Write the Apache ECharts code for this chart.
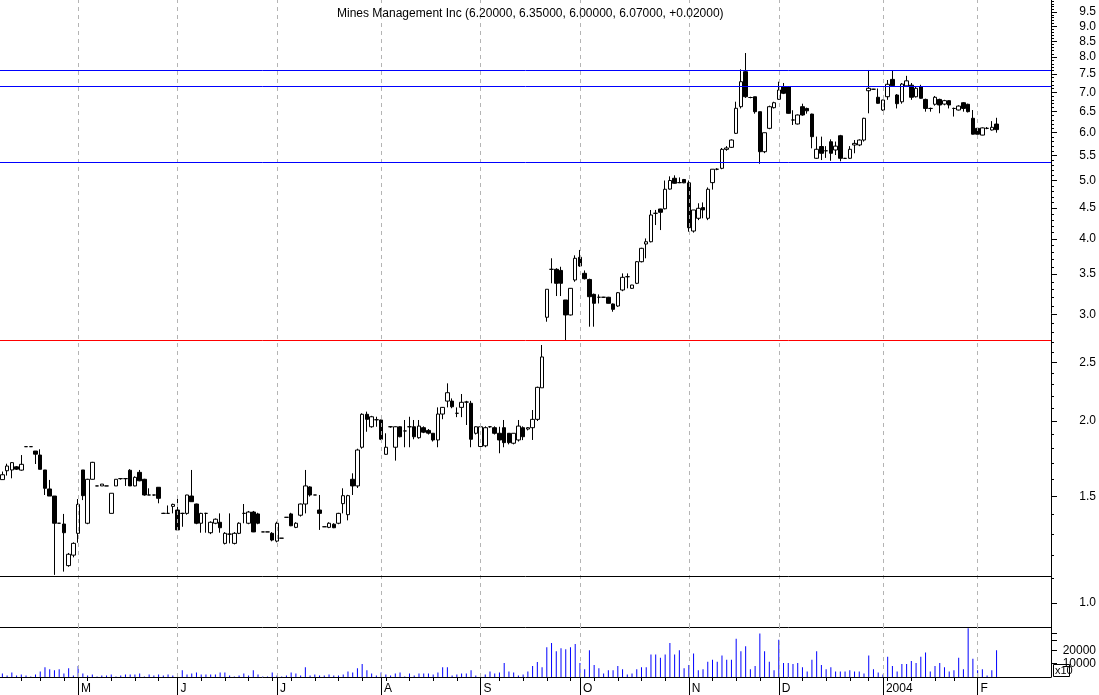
<!DOCTYPE html>
<html><head><meta charset="utf-8">
<script src="https://cdn.jsdelivr.net/npm/echarts@6/dist/echarts.min.js"></script>
<style>html,body{margin:0;padding:0;background:#fff}#c{width:1099px;height:695px}</style>
</head><body><div id="c"></div><script>
// ---------- DATA ----------
const title = 'Mines Management Inc (6.20000, 6.35000, 6.00000, 6.07000, +0.02000)';
const firstDay = '2003-04-08', lastDay = '2004-02-06';
const holidays = ['2003-04-18','2003-05-26','2003-07-04','2003-09-01','2003-11-27','2003-12-25','2004-01-01','2004-01-19'];
const padCount = 11;
const open = [1.60,1.655,1.66,1.68,1.659,1.814,1.814,1.784,1.757,1.66,
1.544,1.503,1.355,1.351,1.153,1.20,1.304,1.66,1.355,1.602,
1.562,1.562,1.562,1.407,1.562,1.606,1.606,1.658,1.562,1.645,
1.602,1.509,1.509,1.554,1.407,1.407,1.445,1.425,1.407,1.407,
1.503,1.458,1.355,1.407,1.307,1.355,1.36,1.255,1.30,1.255,
1.304,1.407,1.355,1.414,1.404,1.311,1.311,1.304,1.266,1.28,
1.386,1.404,1.334,1.397,1.458,1.556,1.509,1.425,1.337,1.334,
1.35,1.355,1.46,1.40,1.602,1.562,1.81,2.052,1.957,2.01,
2.008,1.762,1.957,1.81,1.957,1.926,1.957,1.957,1.877,1.95,
1.93,1.909,1.861,2.054,2.158,2.158,2.06,2.107,2.15,2.14,
1.909,1.815,1.82,1.957,1.95,1.909,1.95,1.909,1.838,1.861,
1.95,1.94,1.95,2.013,2.27,2.97,3.565,3.565,3.55,3.172,
2.996,3.423,3.732,3.511,3.43,3.241,3.205,3.205,3.205,3.124,
3.10,3.295,3.466,3.316,3.38,3.67,3.926,3.96,4.413,4.486,
4.49,4.84,5.043,4.96,5.02,4.956,4.125,4.33,4.51,4.33,
4.96,5.22,5.238,5.63,5.674,5.985,6.624,7.569,6.86,6.88,
6.499,5.58,6.10,6.599,6.813,7.149,7.149,6.297,6.202,6.624,
6.58,6.44,5.442,5.692,5.60,5.796,5.617,5.93,5.44,5.442,
5.725,5.725,5.834,7.04,7.08,6.866,6.541,6.881,7.35,6.926,
6.749,7.17,7.19,6.88,7.15,6.81,6.58,6.686,6.81,6.69,
6.778,6.58,6.541,6.725,6.685,6.338,6.10,5.945,6.10,6.061,
6.20];
const close = [1.63,1.685,1.707,1.665,1.696,1.814,1.814,1.763,1.664,1.548,
1.503,1.355,1.355,1.307,1.204,1.255,1.456,1.505,1.602,1.709,
1.562,1.573,1.562,1.519,1.602,1.606,1.606,1.562,1.614,1.593,
1.509,1.509,1.509,1.49,1.407,1.407,1.456,1.321,1.407,1.509,
1.471,1.355,1.407,1.407,1.36,1.376,1.332,1.304,1.30,1.304,
1.355,1.407,1.414,1.311,1.355,1.311,1.311,1.271,1.355,1.28,
1.386,1.342,1.355,1.458,1.562,1.509,1.509,1.407,1.337,1.355,
1.332,1.407,1.505,1.505,1.562,1.791,2.052,2.013,2.033,2.01,
1.866,1.81,1.957,1.957,1.884,1.926,1.957,1.884,1.962,1.917,
1.91,1.861,2.054,2.107,2.228,2.112,2.06,2.148,2.15,1.866,
1.957,1.957,1.95,1.957,1.909,1.861,1.842,1.842,1.909,1.962,
1.884,1.95,2.013,2.274,2.553,3.304,3.565,3.38,3.38,2.996,
3.316,3.718,3.61,3.44,3.212,3.132,3.205,3.205,3.132,3.061,
3.261,3.458,3.466,3.358,3.67,3.862,3.96,4.385,4.413,4.43,
4.836,5.0,4.948,4.96,4.956,4.177,4.469,4.498,4.47,4.836,
5.22,5.22,5.631,5.66,5.834,6.584,7.286,6.881,6.86,6.499,
5.58,5.999,6.624,6.725,7.059,6.971,6.459,6.297,6.418,6.418,
6.52,5.909,5.632,5.547,5.60,5.547,5.70,5.442,5.44,5.632,
5.76,5.834,6.338,7.105,7.08,6.71,6.795,7.214,7.176,6.70,
7.22,7.31,6.866,7.105,6.84,6.58,6.58,6.866,6.667,6.778,
6.667,6.58,6.64,6.58,6.50,5.965,5.965,6.11,6.10,6.124,
6.07];
const low = [1.60,1.625,1.608,1.66,1.655,1.814,1.814,1.698,1.664,1.509,
1.503,1.113,1.355,1.127,1.148,1.19,1.258,1.48,1.35,1.60,
1.562,1.562,1.562,1.407,1.562,1.60,1.562,1.562,1.56,1.59,
1.505,1.509,1.505,1.462,1.405,1.405,1.407,1.32,1.337,1.40,
1.47,1.35,1.307,1.307,1.30,1.35,1.307,1.25,1.255,1.25,
1.30,1.355,1.35,1.31,1.35,1.311,1.311,1.265,1.26,1.28,
1.386,1.34,1.33,1.39,1.407,1.50,1.509,1.321,1.337,1.33,
1.33,1.35,1.407,1.37,1.509,1.55,1.80,1.92,1.95,1.957,
1.86,1.76,1.95,1.72,1.88,1.81,1.81,1.866,1.87,1.91,
1.90,1.85,1.81,2.014,2.107,2.10,2.03,2.03,1.97,1.81,
1.90,1.81,1.81,1.95,1.90,1.769,1.81,1.83,1.83,1.85,
1.86,1.93,1.861,2.0,2.27,2.92,3.38,3.22,3.22,2.723,
2.99,3.40,3.60,3.43,2.865,2.865,3.13,3.20,3.13,3.033,
3.09,3.28,3.316,3.31,3.37,3.66,3.718,3.95,4.22,4.14,
4.48,4.83,4.94,4.95,4.95,4.114,4.10,4.30,4.33,4.30,
4.83,5.20,5.22,5.60,5.66,5.97,6.58,6.85,6.84,6.45,
5.33,5.55,6.08,6.58,6.80,6.95,6.45,6.178,6.19,6.40,
6.45,5.653,5.43,5.406,5.45,5.39,5.51,5.38,5.43,5.43,
5.547,5.70,5.80,6.459,7.07,6.70,6.52,6.80,7.15,6.58,
6.70,7.15,6.80,6.86,6.83,6.50,6.50,6.65,6.46,6.66,
6.58,6.38,6.53,6.50,6.48,5.96,5.96,5.94,6.08,6.05,
6.00];
const high = [1.65,1.70,1.71,1.685,1.757,1.814,1.814,1.784,1.796,1.66,
1.598,1.503,1.355,1.404,1.21,1.26,1.486,1.66,1.605,1.712,
1.562,1.573,1.562,1.519,1.602,1.606,1.61,1.665,1.62,1.66,
1.605,1.548,1.51,1.555,1.41,1.45,1.46,1.509,1.41,1.51,
1.66,1.46,1.41,1.41,1.365,1.38,1.407,1.31,1.407,1.31,
1.36,1.458,1.42,1.42,1.41,1.311,1.311,1.31,1.363,1.28,
1.386,1.41,1.36,1.46,1.66,1.56,1.509,1.509,1.337,1.36,
1.355,1.41,1.548,1.51,1.639,1.80,2.06,2.073,2.04,2.033,
2.01,1.909,1.96,1.96,1.96,2.008,2.033,2.008,2.008,1.96,
1.94,1.91,2.107,2.11,2.309,2.18,2.107,2.217,2.16,2.16,
1.96,1.96,1.96,1.96,1.96,1.957,2.008,1.91,1.91,2.008,
1.96,1.955,2.086,2.28,2.672,3.304,3.718,3.58,3.60,3.172,
3.32,3.76,3.838,3.55,3.44,3.25,3.24,3.21,3.21,3.13,
3.27,3.51,3.51,3.36,3.68,3.87,4.01,4.469,4.47,4.49,
5.0,5.08,5.10,5.06,5.03,5.0,4.47,4.585,4.60,4.87,
5.22,5.24,5.66,5.70,5.85,6.751,7.638,8.127,6.88,6.88,
6.50,6.0,6.65,6.75,7.286,7.25,7.16,6.535,6.43,6.70,
6.60,6.45,5.91,5.91,5.70,5.85,5.80,5.95,5.45,5.70,
5.834,5.85,6.35,7.618,7.09,7.10,6.80,7.333,7.59,6.95,
7.25,7.45,7.25,7.15,7.20,6.83,6.60,6.90,6.83,6.80,
6.79,6.60,6.66,6.74,6.70,6.54,6.10,6.12,6.13,6.27,
6.35];
const volume = [2640,1060,3430,1060,1850,1060,300,1850,4220,7390,
5800,5000,5800,2640,6600,1060,8180,2640,1060,1850,
300,1060,1060,1850,300,1060,1850,1850,1850,2640,
300,1850,1060,1850,1060,1850,1060,300,5000,1850,
2640,3430,1850,1850,1850,1850,3430,3430,1060,300,
1060,2640,1060,5000,1850,300,300,3430,1060,300,
1060,3430,2640,1060,7390,1060,1850,1060,1060,1850,
1060,1060,1850,4220,3430,6600,9770,5000,2640,1060,
3430,1850,1060,2640,3430,300,2640,1060,2640,2640,
2640,1850,3430,7390,7390,1060,1850,2640,2640,5000,
1060,1060,1850,4220,2640,3430,10560,4220,3430,1060,
1850,4220,8180,11350,7300,22400,25600,19300,21600,20900,
22400,24800,10600,5800,20100,9000,6600,2640,5000,5000,
8200,5800,1850,2640,5800,7400,7400,16900,16900,14500,
16900,25600,16900,20100,6600,9000,17700,5000,5800,11400,
12900,11400,16100,12900,12900,28800,19300,23200,5800,8200,
32700,19300,11400,5000,28000,10600,10600,9800,10600,7400,
4200,12900,19300,9000,5800,7400,4200,4200,4200,5000,
4200,4200,2640,16100,5800,3400,1850,15300,8200,4200,
9800,9800,12100,10600,15300,18500,4200,8200,10600,7400,
4200,5000,14500,5800,36700,13700,5000,5800,1060,5000,
20100];
const priceLabels = [1.0,1.5,2.0,2.5,3.0,3.5,4.0,4.5,5.0,5.5,6.0,6.5,7.0,7.5,8.0,8.5,9.0,9.5];
const volumeLabels = [10000,20000];
const volumeTicks = [10000,20000,27600,32900];
const levels = [
  {v:7.59, c:'#0000ff'}, {v:7.14, c:'#0000ff'}, {v:5.345, c:'#0000ff'},
  {v:2.713, c:'#ff0000'}, {v:1.108, c:'#000000'}
];
const priceMin = 0.9126, priceMax = 9.946, volumeMax = 37600;
const monthNames = ['J','F','M','A','M','J','J','A','S','O','N','D'];

// ---------- BUILD ----------
const dates = [];
(function(){
  let d = new Date(firstDay + 'T00:00:00Z');
  const end = new Date(lastDay + 'T00:00:00Z');
  while (d <= end) {
    const s = d.toISOString().slice(0,10);
    const wd = d.getUTCDay();
    if (wd !== 0 && wd !== 6 && holidays.indexOf(s) < 0) dates.push(s);
    d = new Date(d.getTime() + 86400000);
  }
})();
const cats = dates.slice();
for (let i = 0; i < padCount; i++) cats.push('pad' + i);
const monthStart = cats.map((s,i) => i > 0 && i < dates.length && s.slice(5,7) !== cats[i-1].slice(5,7));
const weekStart = cats.map((s,i) => {
  if (i === 0 || i >= dates.length) return false;
  const a = new Date(cats[i-1]+'T00:00:00Z'), b = new Date(s+'T00:00:00Z');
  return b.getUTCDay() <= a.getUTCDay() || (b - a) > 3*86400000;
});
const L = Math.log;
const candles = dates.map((d,i) => [L(open[i]), L(close[i]), L(low[i]), L(high[i])]);
const minorTicks = [];
for (let k = 10; k < 100; k++) minorTicks.push(L(k/10));
const FONT = '"Liberation Sans", Arial, sans-serif';
const monthLineData = cats.map((c,i) => monthStart[i] ? {xAxis: c} : null).filter(Boolean);

const chart = echarts.init(document.getElementById('c'), null, {renderer:'canvas'});
chart.setOption({
  animation: false,
  backgroundColor: '#ffffff',
  title: { text: title, left: 332, top: 3, textStyle: {fontSize: 12, fontWeight: 'normal', color: '#000', fontFamily: FONT} },
  grid: [
    {left: 0, top: 0, width: 1051, height: 627},
    {left: 0, top: 627, width: 1051, height: 50}
  ],
  xAxis: [
    {type:'category', gridIndex:0, position:'bottom', data:cats, boundaryGap:true,
      axisLine:{show:true, onZero:false, lineStyle:{color:'#000', width:1}}, axisTick:{show:false}, axisLabel:{show:false}, splitLine:{show:false}},
    {type:'category', gridIndex:1, position:'bottom', data:cats, boundaryGap:true,
      axisLine:{show:true, onZero:false, lineStyle:{color:'#000', width:1}},
      axisTick:{show:true, alignWithLabel:true, length:4, interval:(i)=>weekStart[i] && !monthStart[i], lineStyle:{color:'#000'}},
      axisLabel:{show:false}, splitLine:{show:false}},
    {type:'category', gridIndex:1, position:'bottom', offset:0, data:cats, boundaryGap:true,
      axisLine:{show:false, onZero:false},
      axisTick:{show:true, alignWithLabel:true, length:18, interval:(i)=>monthStart[i], lineStyle:{color:'#000'}},
      axisLabel:{show:true, interval:(i)=>monthStart[i], align:'left', padding:[0,0,0,3], margin:6,
        fontSize:12, color:'#000', fontFamily:FONT,
        formatter:(v)=>{ if (v.slice(0,3)==='pad') return ''; const m = +v.slice(5,7); return m===1 ? v.slice(0,4) : monthNames[m-1]; }},
      splitLine:{show:false}}
  ],
  yAxis: [
    {type:'value', gridIndex:0, position:'right', min:L(priceMin), max:L(priceMax),
      axisLine:{show:true, onZero:false, lineStyle:{color:'#000'}}, splitLine:{show:false},
      axisTick:{show:true, length:6, customValues: priceLabels.map(L), lineStyle:{color:'#000'}},
      axisLabel:{show:true, customValues: priceLabels.map(L), formatter:(v)=>Math.exp(v).toFixed(1),
        align:'right', margin:45, fontSize:12, color:'#000', fontFamily:FONT}},
    {type:'value', gridIndex:0, position:'right', offset:0, min:L(priceMin), max:L(priceMax),
      axisLine:{show:false, onZero:false}, splitLine:{show:false},
      axisTick:{show:true, length:3, customValues: minorTicks, lineStyle:{color:'#000'}},
      axisLabel:{show:false}},
    {type:'value', gridIndex:1, position:'right', min:0, max:volumeMax,
      axisLine:{show:true, onZero:false, lineStyle:{color:'#000'}}, splitLine:{show:false},
      axisTick:{show:true, length:6, customValues: volumeTicks, lineStyle:{color:'#000'}},
      axisLabel:{show:true, customValues: volumeLabels, formatter:(v)=>String(Math.round(v)),
        align:'right', margin:45, fontSize:12, color:'#000', fontFamily:FONT}}
  ],
  series: [
    {type:'line', xAxisIndex:0, yAxisIndex:0, data:[], silent:true, z:1,
      markLine:{symbol:'none', silent:true, label:{show:false}, animation:false,
        lineStyle:{color:'#b4b4b4', type:[4,4], width:1}, data: monthLineData}},
    {type:'line', xAxisIndex:1, yAxisIndex:2, data:[], silent:true, z:1,
      markLine:{symbol:'none', silent:true, label:{show:false}, animation:false,
        lineStyle:{color:'#b4b4b4', type:[4,4], width:1}, data: monthLineData}},
    {type:'candlestick', xAxisIndex:0, yAxisIndex:0, data:candles, barWidth:4, z:3,
      itemStyle:{color:'#ffffff', color0:'#000000', borderColor:'#000000', borderColor0:'#000000', borderWidth:1},
      markLine:{symbol:'none', silent:true, label:{show:false}, animation:false,
        data: levels.map(l => ({yAxis: L(l.v), lineStyle:{color:l.c, width:1, type:'solid'}}))}},
    {type:'bar', xAxisIndex:1, yAxisIndex:2, data:volume, barWidth:1, itemStyle:{color:'#0000ff'}, z:3}
  ],
  graphic: [
    {type:'rect', shape:{x:1053.5, y:664.5, width:16, height:12}, style:{fill:'none', stroke:'#000', lineWidth:1}, z:10},
    {type:'text', x:1055, y:665, style:{text:'x10', font:'11px ' + FONT, fill:'#000'}, z:10}
  ]
});
</script></body></html>
